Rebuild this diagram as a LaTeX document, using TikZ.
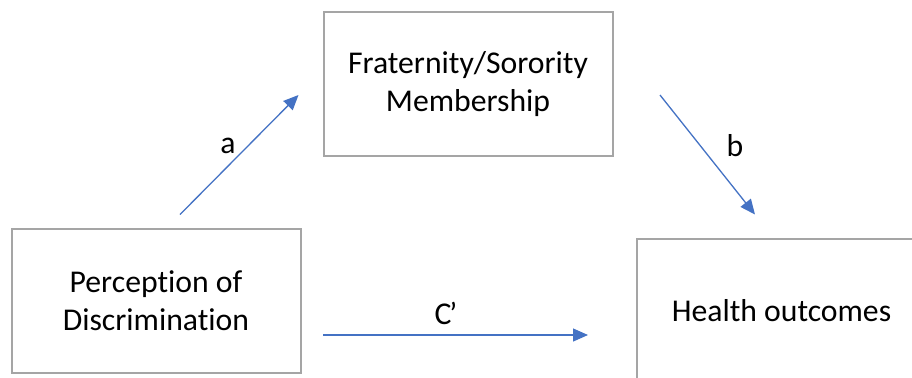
\documentclass[tikz,border=0pt]{standalone}
\usepackage{fontspec}
\setmainfont[Ligatures={NoCommon}]{Carlito}
\usetikzlibrary{arrows.meta}
\definecolor{boxgray}{HTML}{A5A5A5}
\definecolor{arrblue}{HTML}{4472C4}
\tikzset{
  varbox/.style={draw=boxgray, line width=1pt, fill=white, minimum width=144.5pt, minimum height=72pt, align=center, inner sep=0pt, font=\fontsize{15.85}{19}\selectfont},
  patharrow/.style={draw=arrblue, line width=0.65pt, -{Triangle[length=7.5pt,width=6.5pt]}},
  pathlabel/.style={font=\fontsize{15.85}{19}\selectfont, inner sep=0pt}
}
\begin{document}
\begin{tikzpicture}[x=0.5pt,y=-0.5pt]
\clip (0,0) rectangle (912,377);
\fill[white] (0,0) rectangle (912,377);
\node[varbox] (med) at (468,84) {Fraternity/Sorority\\Membership};
\node[varbox] (pred) at (156,301) {Perception of\\Discrimination};
\node[varbox] (out) at (781.5,311) {Health outcomes};
\coordinate (a0) at (180,214.5);
\coordinate (a1) at (298.5,95);
\coordinate (b0) at (660,95);
\coordinate (b1) at (755,214.5);
\coordinate (c0) at (323,335);
\coordinate (c1) at (588,335);
\draw[patharrow] (a0) -- (a1);
\draw[patharrow] (b0) -- (b1);
\draw[patharrow] (c0) -- (c1);
\node[pathlabel] (la) at (228,146) {a};
\node[pathlabel] (lb) at (735,146) {b};
\node[pathlabel] (lc) at (446,313) {C\kern-1pt’};
\end{tikzpicture}
\end{document}
